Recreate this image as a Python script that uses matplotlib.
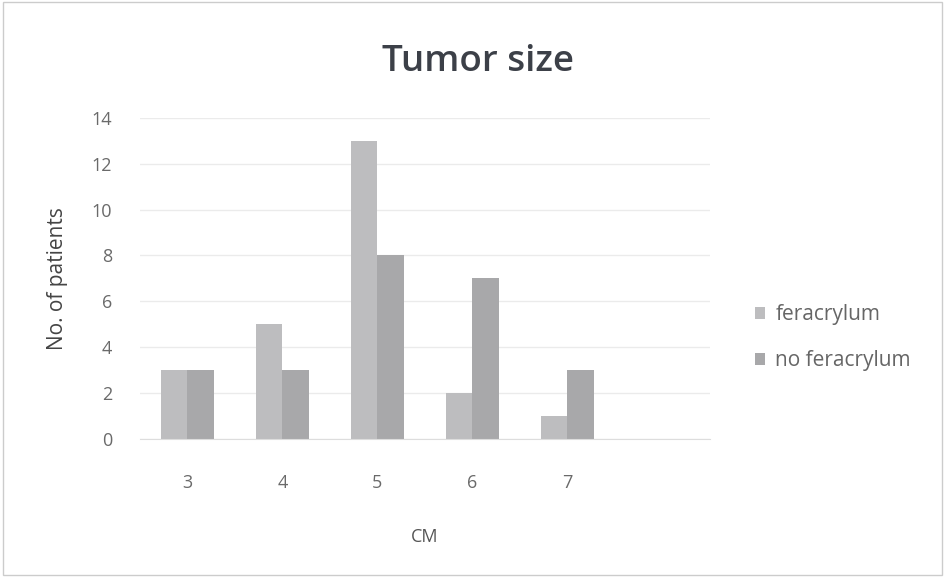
import numpy as np
import matplotlib.pyplot as plt
from matplotlib.patches import Rectangle

sizes = ["3", "4", "5", "6", "7", ""]
feracrylum = [3, 5, 13, 2, 1, 0]
no_feracrylum = [3, 3, 8, 7, 3, 0]

plt.rcParams['font.family'] = ['Open Sans', 'DejaVu Sans']

fig = plt.figure(figsize=(9.45, 5.77), dpi=100)
fig.patch.set_facecolor('white')
fig.add_artist(Rectangle((0.003, 0.003), 0.994, 0.994, transform=fig.transFigure,
                         fill=False, edgecolor='#cccccc', lw=1))

ax = fig.add_axes([0.148, 0.239, 0.603, 0.557])
x = np.arange(len(sizes))
w = 0.28
ax.bar(x - w / 2, feracrylum, w, color='#bdbdbf', label='feracrylum', zorder=2)
ax.bar(x + w / 2, no_feracrylum, w, color='#a8a8aa', label='no feracrylum', zorder=2)

ax.set_xlim(-0.5, len(sizes) - 0.5)
ax.set_ylim(0, 14)
ax.set_yticks(range(0, 15, 2))
ax.set_xticks(x)
ax.set_xticklabels(sizes)
ax.yaxis.grid(True, color='#ebebeb', lw=1)
ax.set_axisbelow(True)
for s in ['top', 'right', 'left']:
    ax.spines[s].set_visible(False)
ax.spines['bottom'].set_color('#dddddd')
ax.tick_params(length=0, labelsize=13, labelcolor='#6a6a6a')
ax.tick_params(axis='x', pad=25)
ax.tick_params(axis='y', pad=20)

ax.set_xlabel('CM', fontsize=13, color='#555555', labelpad=26)
ax.set_ylabel('No. of patients', fontsize=15, color='#444444', labelpad=17)
fig.text(0.506, 0.893, 'Tumor size', ha='center', va='center', fontsize=26.5,
         fontweight='semibold', color='#3c4048')

ax.legend(loc='center left', bbox_to_anchor=(1.046, 0.316), frameon=False, fontsize=15,
          labelcolor='#666666', handlelength=0.5, handleheight=0.5, handletextpad=0.5,
          labelspacing=1.2)

fig.savefig('out.png', dpi=100)
